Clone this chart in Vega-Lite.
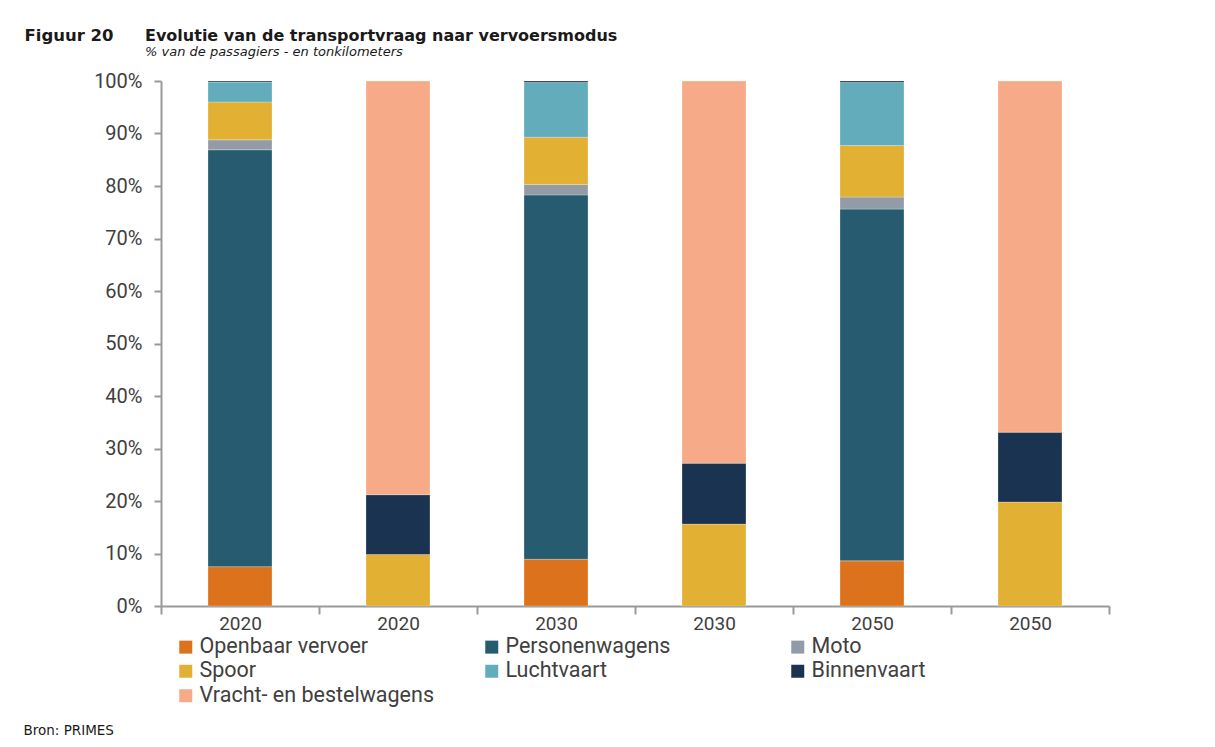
{
  "$schema": "https://vega.github.io/schema/vega-lite/v6.json",
  "width": 948,
  "height": 525,
  "autosize": {"type": "none"},
  "padding": {"left": 161, "top": 81, "right": 106, "bottom": 141},
  "background": "white",
  "title": {
    "text": "Evolutie van de transportvraag naar vervoersmodus",
    "subtitle": "% van de passagiers - en tonkilometers",
    "anchor": "start",
    "frame": "group",
    "dx": -16,
    "font": "DejaVu Sans",
    "fontSize": 16,
    "fontWeight": "bold",
    "color": "#1a1a1a",
    "subtitleFont": "DejaVu Sans",
    "subtitleFontSize": 13,
    "subtitleFontStyle": "italic",
    "subtitleColor": "#1a1a1a",
    "subtitlePadding": 2,
    "offset": -32
  },
  "data": {
    "values": [
      {"bar": "2020 p", "mode": "Openbaar vervoer", "value": 7.5},
      {"bar": "2020 p", "mode": "Personenwagens", "value": 79.4},
      {"bar": "2020 p", "mode": "Moto", "value": 1.9},
      {"bar": "2020 p", "mode": "Spoor", "value": 7.2},
      {"bar": "2020 p", "mode": "Luchtvaart", "value": 3.8},
      {"bar": "2020 p", "mode": "Binnenvaart", "value": 0.2},
      {"bar": "2020 g", "mode": "Spoor", "value": 9.8},
      {"bar": "2020 g", "mode": "Binnenvaart", "value": 11.4},
      {"bar": "2020 g", "mode": "Vracht- en bestelwagens", "value": 78.8},
      {"bar": "2030 p", "mode": "Openbaar vervoer", "value": 8.9},
      {"bar": "2030 p", "mode": "Personenwagens", "value": 69.4},
      {"bar": "2030 p", "mode": "Moto", "value": 2.0},
      {"bar": "2030 p", "mode": "Spoor", "value": 9.0},
      {"bar": "2030 p", "mode": "Luchtvaart", "value": 10.4},
      {"bar": "2030 p", "mode": "Binnenvaart", "value": 0.3},
      {"bar": "2030 g", "mode": "Spoor", "value": 15.6},
      {"bar": "2030 g", "mode": "Binnenvaart", "value": 11.6},
      {"bar": "2030 g", "mode": "Vracht- en bestelwagens", "value": 72.8},
      {"bar": "2050 p", "mode": "Openbaar vervoer", "value": 8.6},
      {"bar": "2050 p", "mode": "Personenwagens", "value": 67.0},
      {"bar": "2050 p", "mode": "Moto", "value": 2.3},
      {"bar": "2050 p", "mode": "Spoor", "value": 9.8},
      {"bar": "2050 p", "mode": "Luchtvaart", "value": 12.0},
      {"bar": "2050 p", "mode": "Binnenvaart", "value": 0.3},
      {"bar": "2050 g", "mode": "Spoor", "value": 19.8},
      {"bar": "2050 g", "mode": "Binnenvaart", "value": 13.3},
      {"bar": "2050 g", "mode": "Vracht- en bestelwagens", "value": 66.9}
    ]
  },
  "transform": [
    {"calculate": "indexof(['Openbaar vervoer', 'Personenwagens', 'Moto', 'Spoor', 'Luchtvaart', 'Binnenvaart', 'Vracht- en bestelwagens'], datum.mode)", "as": "stackOrder"}
  ],
  "mark": {"type": "bar", "width": {"band": 0.405}, "stroke": "#ffffff", "strokeWidth": 0.5, "strokeOpacity": 0.5},
  "encoding": {
    "x": {
      "field": "bar",
      "type": "nominal",
      "sort": ["2020 p", "2020 g", "2030 p", "2030 g", "2050 p", "2050 g"],
      "scale": {"paddingInner": 0, "paddingOuter": 0},
      "axis": {
        "labelExpr": "slice(datum.label, 0, 4)",
        "labelAngle": 0,
        "labelFont": "Roboto",
        "labelFontSize": 19,
        "labelColor": "#404040",
        "labelPadding": 0,
        "domainColor": "#999999",
        "domainWidth": 2,
        "tickColor": "#999999",
        "tickWidth": 2,
        "tickSize": 8,
        "tickBand": "extent",
        "title": "Bron: PRIMES",
        "titleFont": "DejaVu Sans",
        "titleFontSize": 13.5,
        "titleFontWeight": "normal",
        "titleColor": "#1a1a1a",
        "titleAnchor": "start",
        "titleAlign": "left",
        "titleBaseline": "alphabetic",
        "titleX": -138,
        "titleY": 128
      }
    },
    "y": {
      "field": "value",
      "type": "quantitative",
      "stack": "zero",
      "scale": {"domain": [0, 100], "nice": false},
      "axis": {
        "values": [0, 10, 20, 30, 40, 50, 60, 70, 80, 90, 100],
        "labelExpr": "datum.value + '%'",
        "labelFont": "Roboto",
        "labelFontSize": 20,
        "labelColor": "#404040",
        "labelPadding": 12,
        "grid": false,
        "domainColor": "#999999",
        "domainWidth": 2,
        "tickColor": "#999999",
        "tickWidth": 2,
        "tickSize": 7,
        "title": "Figuur 20",
        "titleAngle": 0,
        "titleFont": "DejaVu Sans",
        "titleFontSize": 16.5,
        "titleFontWeight": "bold",
        "titleColor": "#1a1a1a",
        "titleAlign": "left",
        "titleBaseline": "alphabetic",
        "titleX": -137,
        "titleY": -41
      }
    },
    "color": {
      "field": "mode",
      "type": "nominal",
      "sort": ["Openbaar vervoer", "Personenwagens", "Moto", "Spoor", "Luchtvaart", "Binnenvaart", "Vracht- en bestelwagens"],
      "scale": {
        "domain": ["Openbaar vervoer", "Personenwagens", "Moto", "Spoor", "Luchtvaart", "Binnenvaart", "Vracht- en bestelwagens"],
        "range": ["#DC731C", "#275B6F", "#939CA6", "#E2B033", "#62ACBB", "#1A3350", "#F6AA88"]
      },
      "legend": {
        "title": null,
        "orient": "none",
        "legendX": 14,
        "legendY": 555,
        "direction": "horizontal",
        "columns": 3,
        "symbolType": "square",
        "symbolSize": 169,
        "symbolStrokeWidth": 0,
        "labelFont": "Roboto",
        "labelFontSize": 21.5,
        "labelColor": "#404040",
        "labelOffset": 3,
        "labelLimit": 400,
        "rowPadding": 1.5,
        "columnPadding": 47,
        "gridAlign": "all"
      }
    },
    "order": {"field": "stackOrder", "type": "quantitative", "sort": "ascending"}
  },
  "config": {
    "view": {"stroke": null}
  }
}
